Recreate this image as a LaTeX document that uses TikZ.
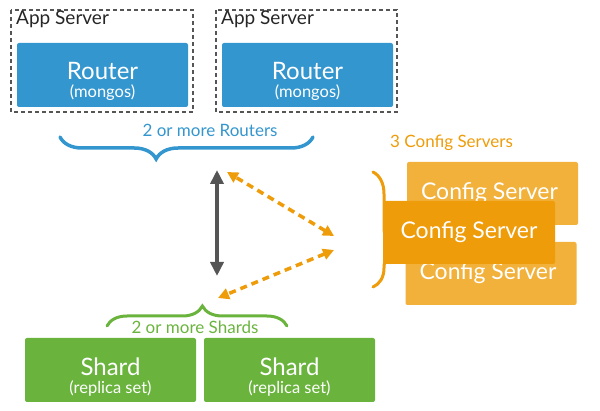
\documentclass[tikz,border=0pt]{standalone}
\usepackage{fontspec}
\setmainfont{Lato}
\usetikzlibrary{arrows.meta,decorations.pathreplacing}
\definecolor{rblue}{HTML}{3496CE}
\definecolor{sgreen}{HTML}{6AB43E}
\definecolor{clight}{HTML}{F1B13B}
\definecolor{cdark}{HTML}{EE9C0A}
\definecolor{dgray}{HTML}{555555}
\tikzset{
  appbox/.style={draw=dgray, line width=1.5pt, dash pattern=on 4pt off 3pt},
  routerbox/.style={fill=rblue, rounded corners=2pt, minimum width=171pt, minimum height=64pt, inner sep=0pt},
  shardbox/.style={fill=sgreen, rounded corners=2pt, minimum width=171pt, minimum height=64pt, inner sep=0pt},
  cfgback/.style={fill=clight, rounded corners=2pt, minimum width=171pt, minimum height=63pt, text=white, inner sep=0pt},
  cfgfront/.style={fill=cdark, rounded corners=2pt, minimum width=172pt, minimum height=63pt, text=white, inner sep=0pt},
  bigt/.style={text=white, inner sep=0pt, font=\fontsize{24}{26}\selectfont},
  smallt/.style={text=white, inner sep=0pt, font=\fontsize{16.5}{18}\selectfont},
  bracestyle/.style={decorate, line width=3.5pt, line cap=round},
  odash/.style={draw=cdark, line width=3.5pt, dash pattern=on 7pt off 5pt, {Triangle[length=11pt,width=11pt]}-{Triangle[length=11pt,width=11pt]}},
}
\begin{document}
\begin{tikzpicture}[x=1pt,y=-1pt]
\useasboundingbox (0,0) rectangle (600,411);
% App servers
\draw[appbox] (11,10) rectangle (193,112);
\draw[appbox] (216,10) rectangle (397,112);
\node[anchor=north west, inner sep=0pt, font=\fontsize{19}{20}\selectfont, text=black!85] (app1) at (16,11) {App Server};
\node[anchor=north west, inner sep=0pt, font=\fontsize{19}{20}\selectfont, text=black!85] (app2) at (221,11) {App Server};
\node[routerbox] (r1) at (102.5,75) {};
\node[routerbox] (r2) at (307.5,75) {};
\node[bigt] (r1t) at (102.5,71) {Router};
\node[smallt] (r1s) at (102.5,93) {(mongos)};
\node[bigt] (r2t) at (307.5,71) {Router};
\node[smallt] (r2s) at (307.5,93) {(mongos)};
% router brace
\draw[rblue, bracestyle, decoration={brace, amplitude=22pt, aspect=0.62}] (313,137) -- (60,137);
\node[text=rblue, font=\fontsize{17}{18}\selectfont, inner sep=0pt] (rlab) at (210,130) {2 or more Routers};
\coordinate (rtip) at (217,170);
% config servers
\node[text=cdark, font=\fontsize{17}{18}\selectfont, inner sep=0pt, anchor=west] (clab) at (390,143) {3 Config Servers};
\node[cfgback] (c1) at (492.5,193.5) {\fontsize{23}{24}\selectfont\hspace*{-6pt}Config Server};
\node[cfgback] (c3) at (491,273.5) {\fontsize{23}{24}\selectfont\hspace*{-6pt}Config Server};
\node[cfgfront] (c2) at (469,232.5) {\fontsize{23}{24}\selectfont Config Server};
\draw[cdark, bracestyle, line width=3pt, decoration={brace, amplitude=22pt, aspect=0.67}] (373,172) -- (373,287);
\coordinate (ctip1) at (334,236);
\coordinate (ctip2) at (334,250);
% shards
\node[shardbox] (s1) at (110.5,370) {};
\node[shardbox] (s2) at (289.5,370) {};
\node[bigt] (s1t) at (110.5,367) {Shard};
\node[smallt] (s1s) at (110.5,389) {(replica set)};
\node[bigt] (s2t) at (289.5,367) {Shard};
\node[smallt] (s2s) at (289.5,389) {(replica set)};
\draw[sgreen, bracestyle, line width=3pt, decoration={brace, amplitude=20pt, aspect=0.53}] (107,326) -- (287,326);
\node[text=sgreen, font=\fontsize{17}{18}\selectfont, inner sep=0pt] (slab) at (195,327) {2 or more Shards};
\coordinate (stip) at (217,276);
\coordinate (stip2) at (218,298);
% arrows
\draw[dgray, line width=3.5pt, {Triangle[length=14pt,width=13pt]}-{Triangle[length=14pt,width=13pt]}] (rtip) -- (stip);
\draw[odash] (ctip1) -- (227,172);
\draw[odash] (ctip2) -- (stip2);
\end{tikzpicture}
\end{document}
